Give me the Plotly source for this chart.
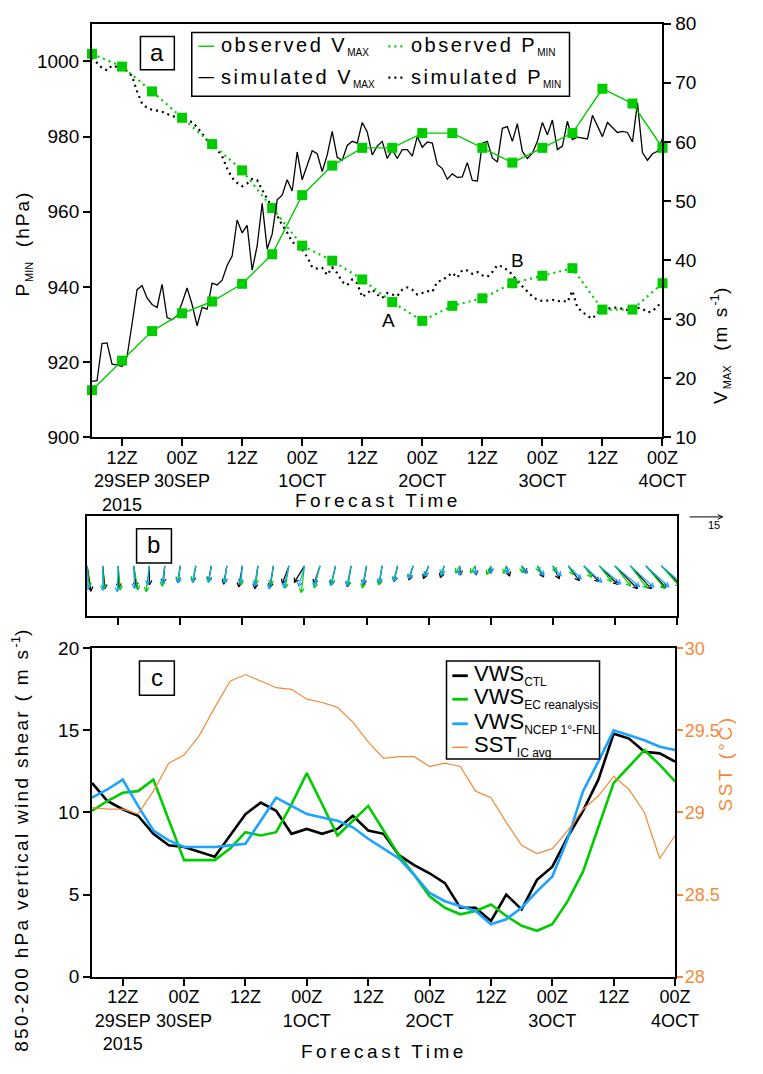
import math
import plotly.graph_objects as go

W, H = 763, 1074
FONT = "Liberation Sans"

GREEN = "#00cc00"
BLUE = "#1aa3ff"
ORANGE = "#f28a3a"

# ---------------------------------------------------------------- data
# forecast hours counted from 06Z 29 SEP 2015
sim_hours = list(range(0, 115))          # hourly model output
obs_hours = list(range(0, 115, 6))       # 6-hourly best track
vws_hours = list(range(0, 115, 3))       # 3-hourly shear / SST

tick_hours = [6, 18, 30, 42, 54, 66, 78, 90, 102, 114]
tick_labels = ["12Z<br>29SEP<br>2015", "00Z<br>30SEP", "12Z", "00Z<br>1OCT", "12Z",
               "00Z<br>2OCT", "12Z", "00Z<br>3OCT", "12Z", "00Z<br>4OCT"]

obs_vmax = [18, 23, 28, 31, 33, 36, 41, 51, 56, 59, 59, 61.5, 61.5, 59, 56.5,
            59, 61.5, 69, 66.5, 59]
obs_pmin = [1002, 998.6, 992, 985, 978, 971, 961, 951, 947, 942, 936, 931, 935,
            937, 941, 943, 945, 934, 934, 941]

sim_vmax = [19.5, 19.6, 25.9, 26.0, 22.4, 22.3, 22.0, 23.7, 29.2, 35.0,
            35.7, 33.6, 32.5, 32.0, 35.9, 30.3, 29.9, 30.6, 32.8, 35.3,
            32.5, 28.9, 32.0, 31.7, 36.1, 35.8, 36.6, 39.1, 40.7, 46.8,
            44.6, 45.9, 38.3, 42.4, 49.6, 41.9, 44.4, 50.2, 51.0, 53.6,
            51.7, 58.3, 53.6, 56.2, 58.5, 58.0, 55.0, 57.8, 61.8, 57.4,
            56.9, 59.4, 60.1, 59.8, 63.3, 61.7, 57.8, 59.3, 60.1, 57.2,
            58.7, 57.2, 58.7, 58.7, 57.6, 60.9, 59.1, 60.0, 59.8, 56.2,
            55.5, 53.7, 54.6, 54.0, 54.1, 56.5, 53.5, 53.4, 59.8, 60.1,
            57.3, 56.6, 62.3, 62.6, 60.1, 63.1, 58.4, 57.2, 58.1, 60.1,
            63.3, 61.2, 63.7, 58.7, 59.3, 63.5, 60.4, 60.8, 60.6, 60.5,
            64.5, 62.6, 60.9, 63.3, 62.4, 61.6, 61.8, 61.6, 60.0, 66.6,
            58.2, 56.9, 58.0, 58.4, 60.6]

sim_pmin = [1001.0, 999.5, 998.2, 997.6, 998.9, 998.5, 998.5, 997.4, 996.1, 992.0,
            988.8, 987.6, 987.1, 986.9, 986.6, 986.0, 985.5, 985.0, 984.6, 984.1,
            983.9, 982.5, 980.8, 979.0, 977.6, 976.5, 974.8, 971.5, 969.0, 967.7,
            966.8, 967.5, 968.7, 968.4, 965.8, 963.3, 961.2, 959.0, 956.5, 954.5,
            952.0, 951.0, 950.0, 948.0, 945.3, 944.9, 945.1, 943.2, 945.2, 943.7,
            941.4, 940.5, 942.0, 941.0, 937.3, 938.4, 939.3, 938.0, 937.1, 938.4,
            938.0, 937.6, 939.3, 939.9, 939.3, 938.0, 938.4, 938.9, 938.7, 941.4,
            941.8, 942.9, 943.8, 942.5, 944.5, 944.4, 943.5, 944.0, 943.1, 942.7,
            944.0, 945.8, 945.4, 944.5, 943.3, 941.5, 940.2, 938.8, 937.5, 936.6,
            936.3, 936.4, 936.6, 936.2, 936.4, 936.0, 939.0, 934.5, 933.4, 932.3,
            931.6, 933.2, 933.9, 934.2, 934.5, 934.5, 934.2, 933.9, 934.5, 934.5,
            934.2, 933.3, 933.5, 935.0, 935.8]

vws_ctl = [11.8, 10.7, 10.2, 9.8, 8.7, 8.0, 7.9, 7.6, 7.3, 8.6,
           9.9, 10.6, 10.1, 8.7, 9.0, 8.7, 9.0, 9.8, 8.9, 8.7,
           7.4, 6.8, 6.3, 5.7, 4.2, 4.2, 3.4, 5.0, 4.1, 5.9,
           6.7, 8.5, 10.1, 12.0, 14.8, 14.5, 13.7, 13.6, 13.1]
vws_ec = [10.1, 10.7, 11.2, 11.3, 12.0, 9.5, 7.1, 7.1, 7.1, 7.8,
          8.8, 8.6, 8.8, 10.5, 12.4, 10.5, 8.6, 9.5, 10.4, 8.9,
          7.4, 6.2, 4.9, 4.2, 3.8, 4.0, 4.4, 3.7, 3.1, 2.8,
          3.2, 4.6, 6.4, 9.1, 11.8, 12.8, 13.8, 12.9, 11.9]
vws_fnl = [10.9, 11.4, 12.0, 10.4, 8.9, 8.3, 7.9, 7.9, 7.9, 8.0,
           8.1, 9.5, 10.9, 10.4, 9.9, 9.7, 9.5, 9.1, 8.4, 7.8,
           7.2, 6.2, 5.1, 4.6, 4.3, 4.0, 3.2, 3.5, 4.2, 5.2,
           6.1, 8.4, 11.3, 13.1, 15.0, 14.7, 14.4, 14.0, 13.8]
sst_ic = [29.03, 29.02, 29.02, 28.99, 29.13, 29.30, 29.35, 29.47, 29.64, 29.80,
          29.84, 29.80, 29.76, 29.75, 29.69, 29.67, 29.64, 29.55, 29.43, 29.33,
          29.34, 29.34, 29.28, 29.30, 29.28, 29.13, 29.09, 28.94, 28.80, 28.75,
          28.78, 28.89, 29.02, 29.10, 29.22, 29.14, 29.00, 28.72, 28.86]

# direction the shear vector points (deg, counter-clockwise from east)
dir_ctl = [-81, -84, -88, -83, -89, -95, -98, -101, -101, -100,
           -100, -98, -99, -111, -122, -109, -103, -100, -100, -99,
           -103, -107, -113, -108, -85, -85, -90, -72, -53, -60,
           -63, -53, -46, -45, -45, -47, -47, -45, -45]
dir_ec = [-84, -86, -85, -80, -97, -98, -100, -102, -100, -98,
          -95, -97, -99, -100, -97, -105, -102, -99, -101, -100,
          -105, -110, -110, -112, -120, -125, -115, -110, -85, -70,
          -60, -60, -55, -52, -52, -53, -50, -48, -48]
dir_fnl = [-88, -90, -92, -88, -95, -97, -99, -101, -100, -99,
           -98, -100, -101, -104, -106, -107, -104, -102, -101, -100,
           -104, -108, -110, -108, -92, -88, -85, -75, -60, -55,
           -50, -45, -42, -40, -40, -42, -42, -40, -40]
ref_speed = 15

# ---------------------------------------------------------------- layout geometry (pixels)
A_L, A_R, A_T, A_B = 95, 684, 14, 436
B_L, B_R, B_T, B_B = 90, 699, 516, 618
C_L, C_R, C_T, C_B = 95, 697, 651, 986


def fx(px):
    return px / W


def fy(py):
    return 1 - py / H


def spaced(text, px):
    return f'<span style="letter-spacing:{px}px">{text}</span>'


def small(text, size):
    return f'<span style="font-size:{size}px">{text}</span>'


fig = go.Figure()

# ---------------------------------------------------------------- panel a
fig.add_trace(go.Scatter(x=sim_hours, y=sim_pmin, xaxis="x", yaxis="y", mode="lines",
                         line=dict(color="black", width=2.2, dash="2px,4px")))
fig.add_trace(go.Scatter(x=obs_hours, y=obs_pmin, xaxis="x", yaxis="y", mode="lines+markers",
                         line=dict(color=GREEN, width=2.2, dash="2px,4px"),
                         marker=dict(symbol="square", size=10, color=GREEN), cliponaxis=False))
fig.add_trace(go.Scatter(x=sim_hours, y=sim_vmax, xaxis="x", yaxis="y2", mode="lines",
                         line=dict(color="black", width=1.3)))
fig.add_trace(go.Scatter(x=obs_hours, y=obs_vmax, xaxis="x", yaxis="y2", mode="lines+markers",
                         line=dict(color=GREEN, width=1.4),
                         marker=dict(symbol="square", size=10, color=GREEN), cliponaxis=False))

# ---------------------------------------------------------------- panel b (shear vectors)
px_per_hour = (B_R - B_L) / 114.0
px_per_ms = 33.0 / ref_speed
half_range = (B_B - B_T) / 2.0 / px_per_ms
barb_px = 5.0
barb_ang = math.radians(150)


def vector_path(mags, dirs):
    xs, ys = [], []
    for h, m, d in zip(vws_hours, mags, dirs):
        a = math.radians(d)
        hx = h + m * px_per_ms * math.cos(a) / px_per_hour
        hy = m * math.sin(a)
        xs += [h, hx, None]
        ys += [0, hy, None]
        b1 = a + barb_ang
        b2 = a - barb_ang
        xs += [hx + barb_px * math.cos(b1) / px_per_hour, hx,
               hx + barb_px * math.cos(b2) / px_per_hour, None]
        ys += [hy + barb_px * math.sin(b1) / px_per_ms, hy,
               hy + barb_px * math.sin(b2) / px_per_ms, None]
    return xs, ys


for mags, dirs, col in [(vws_ctl, dir_ctl, "black"), (vws_ec, dir_ec, GREEN),
                        (vws_fnl, dir_fnl, BLUE)]:
    vx, vy = vector_path(mags, dirs)
    fig.add_trace(go.Scatter(x=vx, y=vy, xaxis="x2", yaxis="y3", mode="lines",
                             line=dict(color=col, width=1.2)))

# ---------------------------------------------------------------- panel c
for ser, col in [(vws_ctl, "black"), (vws_ec, GREEN), (vws_fnl, BLUE)]:
    fig.add_trace(go.Scatter(x=vws_hours, y=ser, xaxis="x3", yaxis="y4", mode="lines",
                             line=dict(color=col, width=2.6)))
fig.add_trace(go.Scatter(x=vws_hours, y=sst_ic, xaxis="x3", yaxis="y5", mode="lines",
                         line=dict(color=ORANGE, width=1.2)))

# ---------------------------------------------------------------- axes
tickfont = dict(family=FONT, size=19, color="black")
common_x = dict(range=[0, 114], tickvals=tick_hours, ticks="outside", ticklen=7,
                tickwidth=1.5, tickcolor="black", showline=True, linecolor="black",
                linewidth=2, mirror=True, showgrid=False, zeroline=False,
                tickfont=dict(family=FONT, size=18, color="black"),
                tickangle=0, ticklabelstandoff=-4)
common_y = dict(ticks="outside", ticklen=7, tickwidth=1.5, tickcolor="black", showline=True,
                linecolor="black", linewidth=2, showgrid=False, zeroline=False,
                tickfont=tickfont)

fig.update_layout(
    width=W, height=H, autosize=False, showlegend=False,
    margin=dict(l=0, r=0, t=0, b=0),
    paper_bgcolor="white", plot_bgcolor="white",
    font=dict(family=FONT, color="black"),
    xaxis=dict(common_x, domain=[fx(A_L), fx(A_R)], anchor="y", ticktext=tick_labels),
    yaxis=dict(common_y, domain=[fy(A_B), fy(A_T)], anchor="x", range=[900, 1010],
               tickvals=[900, 920, 940, 960, 980, 1000]),
    yaxis2=dict(common_y, overlaying="y", side="right", anchor="x", range=[10, 80],
                tickvals=[10, 20, 30, 40, 50, 60, 70, 80]),
    xaxis2=dict(common_x, domain=[fx(B_L), fx(B_R)], anchor="y3", showticklabels=False),
    yaxis3=dict(domain=[fy(B_B), fy(B_T)], anchor="x2", range=[-half_range, half_range],
                showticklabels=False, ticks="", showline=True, linecolor="black",
                linewidth=2, mirror=True, showgrid=False, zeroline=False),
    xaxis3=dict(common_x, domain=[fx(C_L), fx(C_R)], anchor="y4", ticktext=tick_labels),
    yaxis4=dict(common_y, domain=[fy(C_B), fy(C_T)], anchor="x3", range=[0, 20],
                tickvals=[0, 5, 10, 15, 20]),
    yaxis5=dict(common_y, overlaying="y4", side="right", anchor="x3", range=[28, 30],
                tickvals=[28, 28.5, 29, 29.5, 30], ticktext=["28", "28.5", "29", "29.5", "30"],
                tickcolor=ORANGE, ticklen=6, ticklabelstandoff=-2,
                tickfont=dict(family=FONT, size=18, color=ORANGE)),
)

# ---------------------------------------------------------------- annotations & shapes
shapes = []
annots = []


def rect(x0, y0, x1, y1, width=1.5):
    shapes.append(dict(type="rect", xref="paper", yref="paper", x0=fx(x0), x1=fx(x1),
                       y0=fy(y1), y1=fy(y0), line=dict(color="black", width=width),
                       fillcolor="white", layer="above"))


def seg(x0, y0, x1, y1, color, width, dash="solid"):
    shapes.append(dict(type="line", xref="paper", yref="paper", x0=fx(x0), x1=fx(x1),
                       y0=fy(y0), y1=fy(y1), line=dict(color=color, width=width, dash=dash),
                       layer="above"))


def text(t, x, y, size=19, color="black", angle=0, xanchor="center", yanchor="middle"):
    annots.append(dict(text=t, x=fx(x), y=fy(y), xref="paper", yref="paper",
                       showarrow=False, font=dict(family=FONT, size=size, color=color),
                       textangle=angle, xanchor=xanchor, yanchor=yanchor))


# panel labels
for lab, (x0, y0, x1, y1) in [("a", (145, 27, 180, 61)), ("b", (141, 529, 177, 564)),
                               ("c", (144, 664, 180, 699))]:
    rect(x0, y0, x1, y1)
    text(lab, (x0 + x1) / 2, (y0 + y1) / 2 - 1, size=24)

# panel a legend
rect(198, 23, 588, 88)
seg(205, 37, 221, 37, GREEN, 1.4)
seg(401, 37, 419, 37, GREEN, 2.2, "2px,4px")
seg(205, 69, 221, 69, "black", 1.3)
seg(401, 69, 419, 69, "black", 2.2, "2px,4px")
text(spaced("observed V", 2.5) + "<sub>" + small("MAX", 10) + "</sub>", 226, 37, size=20,
     xanchor="left")
text(spaced("observed P", 2.5) + "<sub>" + small("MIN", 10) + "</sub>", 422, 37, size=20,
     xanchor="left")
text(spaced("simulated V", 2.5) + "<sub>" + small("MAX", 10) + "</sub>", 226, 69, size=20,
     xanchor="left")
text(spaced("simulated P", 2.5) + "<sub>" + small("MIN", 10) + "</sub>", 422, 69, size=20,
     xanchor="left")

text("A", 401, 317, size=19)
text("B", 534, 255, size=19)

# axis titles
text(spaced("P", 2) + "<sub>" + small("MIN", 11) + "</sub>" + spaced("  (hPa)", 2),
     24, 238, size=19, angle=-90)
text(spaced("V", 2) + "<sub>" + small("MAX", 11) + "</sub>" + spaced("  (m s", 2)
     + "<sup>-1</sup>)", 744, 343, size=19, angle=-90)
text(spaced("Forecast Time", 3.5), 390, 500, size=19)
text(spaced("Forecast Time", 3.5), 396, 1062, size=19)
text(spaced("850-200 hPa vertical wind shear ( m s", 2.3) + "<sup>-1</sup>)",
     21, 847, size=19, angle=-90)
text(spaced("SST (°C)", 2.5), 750, 768, size=19, color=ORANGE, angle=-90)

# reference vector for panel b
seg(712, 517, 746, 517, "black", 1)
seg(741, 514.5, 746, 517, "black", 1)
seg(741, 519.5, 746, 517, "black", 1)
text("15", 737, 525, size=11)

# panel c legend
rect(461, 664, 619, 764)
leg_rows = [("black", 2.8, "CTL", 679), (GREEN, 2.8, "EC reanalysis", 703),
            (BLUE, 2.8, "NCEP 1°-FNL", 728), (ORANGE, 1.4, "IC avg", 752)]
for col, wd, sub, yy in leg_rows:
    seg(467, yy, 483, yy, col, wd)
    main = "SST" if sub == "IC avg" else "VWS"
    text(main + "<sub>" + small(sub, 12) + "</sub>", 487, yy - 1, size=22,
         xanchor="left")

fig.update_layout(shapes=shapes, annotations=annots)
fig.write_html("out.html")
